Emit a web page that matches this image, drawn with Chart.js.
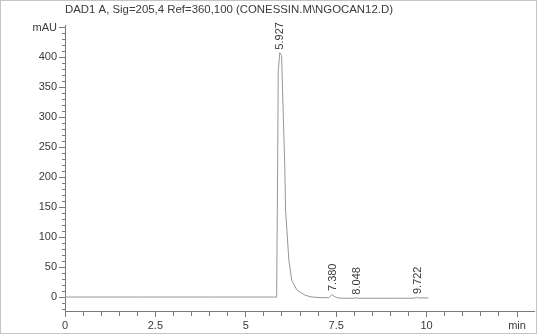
<!DOCTYPE html>
<html>
<head>
<meta charset="utf-8">
<script src="https://cdn.jsdelivr.net/npm/chart.js@4/dist/chart.umd.min.js"></script>
<style>
  html, body { margin: 0; padding: 0; background: #fff; }
  #wrap { width: 537px; height: 334px; box-sizing: border-box; border: 1px solid #c4c4c4; background: #fff; }
  canvas { display: block; }
</style>
</head>
<body>
<div id="wrap"><canvas id="c" width="535" height="332"></canvas></div>
<script>
// ---- data ----
const titleText = 'DAD1 A, Sig=205,4 Ref=360,100 (CONESSIN.M\\NGOCAN12.D)';
const timeMin = [0, 2.0, 4.0, 5.80, 5.853, 5.88, 5.897, 5.94, 5.99, 6.08, 6.10, 6.19, 6.27, 6.41, 6.64, 6.83, 7.10, 7.30, 7.38, 7.45, 7.55, 7.70, 8.00, 8.05, 8.10, 8.60, 9.20, 9.65, 9.72, 9.78, 10.05];
const signalMAU = [0, 0, 0, 0, 0, 212, 378, 408, 403, 212, 145, 62, 28, 12, 3, 0, -1, -1, 4, 1, -1.5, -2, -2, -1, -2, -2, -2, -2, -0.5, -1.5, -1.5];
const peakLabels = ['5.927', '7.380', '8.048', '9.722'];
const peakTimes = [5.927, 7.380, 8.048, 9.722];
const peakTops = [408, 5, -1, 0];
const xMajorTicks = [0, 2.5, 5, 7.5, 10, 12.5];
const xTickLabels = ['0', '2.5', '5', '7.5', '10', 'min'];
const yTopLabel = 'mAU';

const AXIS = '#7a7a7a';
const TEXT = '#3a3a3a';
const FONT = { family: "'Liberation Sans', Arial, sans-serif", size: 11 };

const peakLabelPlugin = {
  id: 'peakLabels',
  afterDatasetsDraw(chart) {
    const { ctx, scales } = chart;
    ctx.save();
    ctx.fillStyle = TEXT;
    ctx.font = "11px 'Liberation Sans', Arial, sans-serif";
    ctx.textAlign = 'left';
    ctx.textBaseline = 'middle';
    peakLabels.forEach((lab, i) => {
      const x = scales.x.getPixelForValue(peakTimes[i]) + 1;
      const y = scales.y.getPixelForValue(peakTops[i]) - 3;
      ctx.save();
      ctx.translate(x, y);
      ctx.rotate(-Math.PI / 2);
      ctx.fillText(lab, 0, 0);
      ctx.restore();
    });
    ctx.restore();
  }
};

const isMajorX = v => xMajorTicks.some(m => Math.abs(m - v) < 1e-6);

new Chart(document.getElementById('c'), {
  type: 'line',
  data: {
    datasets: [{
      data: timeMin.map((t, i) => ({ x: t, y: signalMAU[i] })),
      borderColor: '#969696',
      borderWidth: 1,
      pointRadius: 0,
      tension: 0,
      fill: false
    }]
  },
  options: {
    responsive: false,
    animation: false,
    devicePixelRatio: 1,
    layout: { padding: { left: 0, right: 2, top: 0, bottom: 0 } },
    plugins: {
      legend: { display: false },
      tooltip: { enabled: false },
      title: {
        display: true,
        text: titleText,
        align: 'start',
        fullSize: false,
        color: TEXT,
        font: { family: FONT.family, size: 11.4, weight: 'normal' },
        padding: { top: 2, bottom: 9 }
      }
    },
    scales: {
      x: {
        type: 'linear',
        min: 0,
        max: 12.97,
        afterFit(s) { s.height = 22; },
        border: { display: true, color: AXIS, width: 1 },
        grid: {
          drawOnChartArea: false,
          drawTicks: true,
          tickLength: 6,
          tickColor: AXIS,
          tickBorderDash: ctx => isMajorX(ctx.tick.value) ? [] : [4, 30]
        },
        ticks: {
          stepSize: 0.5,
          includeBounds: false,
          autoSkip: false,
          maxRotation: 0,
          padding: 2,
          color: TEXT,
          font: FONT,
          callback: v => {
            const k = xMajorTicks.findIndex(m => Math.abs(m - v) < 1e-6);
            return k >= 0 ? xTickLabels[k] : '';
          }
        }
      },
      y: {
        type: 'linear',
        min: -23.3,
        max: 453,
        afterFit(s) { s.width = 64; },
        border: { display: true, color: AXIS, width: 1 },
        grid: {
          drawOnChartArea: false,
          drawTicks: true,
          tickLength: 6,
          tickColor: AXIS,
          tickBorderDash: ctx => (Math.round(ctx.tick.value) % 50 === 0) ? [] : [0, 3, 3, 30]
        },
        ticks: {
          stepSize: 10,
          includeBounds: false,
          autoSkip: false,
          padding: 2,
          color: TEXT,
          font: FONT,
          callback: v => {
            const r = Math.round(v);
            if (r === 450) return yTopLabel;
            return r % 50 === 0 ? String(r) : '';
          }
        }
      }
    }
  },
  plugins: [peakLabelPlugin]
});
</script>
</body>
</html>
